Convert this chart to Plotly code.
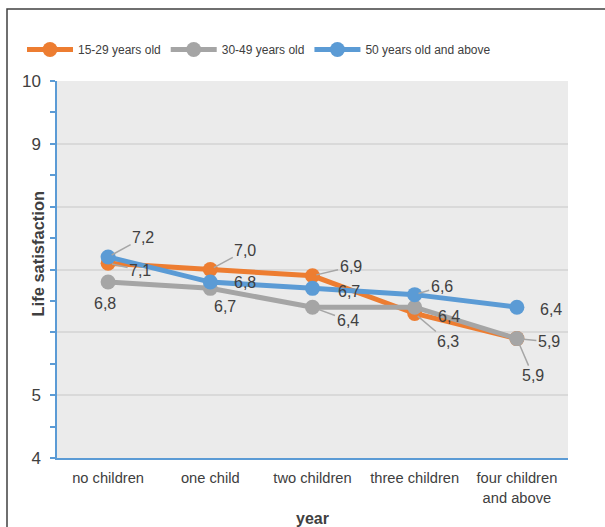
import plotly.graph_objects as go

# Categories and series values
categories = ["no children", "one child", "two children", "three children",
              "four children<br>and above"]
series_names = ["15-29 years old", "30-49 years old", "50 years old and above"]
young = [7.1, 7.0, 6.9, 6.3, 5.9]
middle = [6.8, 6.7, 6.4, 6.4, 5.9]
older = [7.2, 6.8, 6.7, 6.6, 6.4]
y_tick_values = [4, 5, 6, 7, 8, 9, 10]
y_tick_labels = ["4", "5", "", "", "", "9", "10"]

colors = ["#ED7D31", "#A5A5A5", "#5B9BD5"]
text_color = "#404040"
font_family = "Liberation Sans, Arial, sans-serif"

# Data-label placement: (dx, dy, leader line?) in pixels per point
label_layout = [
    [(32, 7, True), (35, -19, True), (38, -9, True), (33, 28, True), (16, 37, True)],
    [(-3, 21, False), (15, 18, False), (35, 13, True), (34, 9, False), (32, 3, True)],
    [(35, -19, True), (35, 0, False), (36, 3, False), (27, -8, True), (34, 2, False)],
]

fig = go.Figure()
all_series = [young, middle, older]
for name, vals, col in zip(series_names, all_series, colors):
    fig.add_trace(go.Scatter(
        x=categories, y=vals, name=name, mode="lines+markers",
        line=dict(color=col, width=5),
        marker=dict(color=col, size=15),
    ))

label_font = dict(size=16, color=text_color, family=font_family)
annotations = []
for vals, layout_row in zip(all_series, label_layout):
    for cat, v, (dx, dy, leader) in zip(categories, vals, layout_row):
        txt = f"{v:.1f}".replace(".", ",")
        if leader:
            annotations.append(dict(
                x=cat, y=v, xref="x", yref="y", text=txt,
                showarrow=True, arrowhead=0, arrowwidth=1.5,
                arrowcolor="#A6A6A6", ax=dx, ay=dy, standoff=4,
                font=label_font,
            ))
        else:
            annotations.append(dict(
                x=cat, y=v, xref="x", yref="y", text=txt,
                showarrow=False, xshift=dx, yshift=-dy,
                font=label_font,
            ))

l, r, t, b = 57, 37, 81, 69
W, H = 605, 527
pw, ph = W - l - r, H - t - b

# Axis titles
annotations.append(dict(
    x=(37 - l) / pw, y=0.5 + 16 / ph, xref="paper", yref="paper",
    text="<b>Life satisfaction</b>", textangle=-90, showarrow=False,
    xanchor="center", yanchor="middle",
    font=dict(size=16.5, color=text_color, family=font_family),
))
annotations.append(dict(
    x=0.5, y=-(518 - t - ph) / ph, xref="paper", yref="paper",
    text="<b>year</b>", showarrow=False, yanchor="middle",
    font=dict(size=16, color=text_color, family=font_family),
))

fig.update_layout(
    width=W, height=H,
    margin=dict(l=l, r=r, t=t, b=b),
    paper_bgcolor="white",
    plot_bgcolor="#EBEBEB",
    font=dict(family=font_family, color=text_color),
    showlegend=True,
    legend=dict(
        orientation="h", x=(22 - l) / pw, y=1 + (t - 35) / ph,
        xanchor="left", yanchor="top",
        font=dict(size=12, color="#404040"),
        bgcolor="rgba(0,0,0,0)", itemwidth=46,
    ),
    annotations=annotations,
    shapes=[dict(
        type="rect", xref="paper", yref="paper",
        x0=(7 - l) / pw, x1=(W + 10 - l) / pw,
        y0=-(H + 10 - t - ph) / ph, y1=1 + (t - 9) / ph,
        line=dict(color="#404040", width=1.5), fillcolor="rgba(0,0,0,0)",
        layer="below",
    )],
    xaxis=dict(
        type="category", range=[-0.5, 4.5],
        showgrid=False, showline=True, linecolor="#5B9BD5", linewidth=1.5,
        ticks="", tickfont=dict(size=14.7, color="#404040"),
        ticklabelstandoff=6, zeroline=False,
    ),
    yaxis=dict(
        range=[4, 10], tickvals=y_tick_values, ticktext=y_tick_labels,
        showgrid=True, gridcolor="#D9D9D9", gridwidth=1.5,
        showline=True, linecolor="#5B9BD5", linewidth=1.5,
        ticks="outside", ticklen=5, tickcolor="#5B9BD5", tickwidth=1.5,
        minor=dict(ticks="outside", ticklen=5, tickcolor="#5B9BD5",
                   tickwidth=1.5, dtick=0.5, showgrid=False),
        tickfont=dict(size=17, color="#404040"), ticklabelstandoff=6,
        zeroline=False,
    ),
)

fig.write_html("out.html")
